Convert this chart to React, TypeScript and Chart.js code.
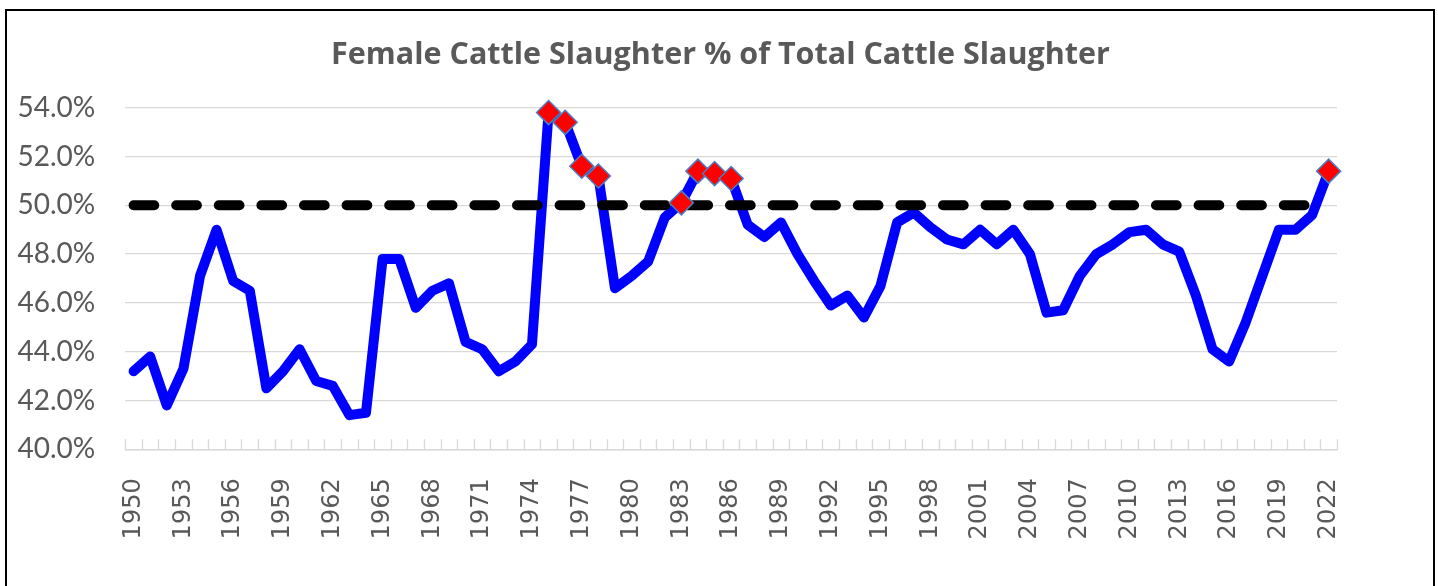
import React, { useEffect, useRef } from "react";
import { Chart, registerables } from "chart.js";

Chart.register(...registerables);

const TITLE = "Female Cattle Slaughter % of Total Cattle Slaughter";

const years: string[] = [
  "1950", "1951", "1952", "1953", "1954", "1955", "1956", "1957", "1958", "1959",
  "1960", "1961", "1962", "1963", "1964", "1965", "1966", "1967", "1968", "1969",
  "1970", "1971", "1972", "1973", "1974", "1975", "1976", "1977", "1978", "1979",
  "1980", "1981", "1982", "1983", "1984", "1985", "1986", "1987", "1988", "1989",
  "1990", "1991", "1992", "1993", "1994", "1995", "1996", "1997", "1998", "1999",
  "2000", "2001", "2002", "2003", "2004", "2005", "2006", "2007", "2008", "2009",
  "2010", "2011", "2012", "2013", "2014", "2015", "2016", "2017", "2018", "2019",
  "2020", "2021", "2022",
];

const femaleShare: number[] = [
  43.2, 43.8, 41.8, 43.3, 47.1, 49.0, 46.9, 46.5, 42.5, 43.2,
  44.1, 42.8, 42.6, 41.4, 41.5, 47.8, 47.8, 45.8, 46.5, 46.8,
  44.4, 44.1, 43.2, 43.6, 44.3, 53.8, 53.4, 51.6, 51.2, 46.6,
  47.1, 47.7, 49.5, 50.1, 51.4, 51.3, 51.1, 49.2, 48.7, 49.3,
  48.0, 46.9, 45.9, 46.3, 45.4, 46.7, 49.3, 49.7, 49.1, 48.6,
  48.4, 49.0, 48.4, 49.0, 48.0, 45.6, 45.7, 47.1, 48.0, 48.4,
  48.9, 49.0, 48.4, 48.1, 46.3, 44.1, 43.6, 45.2, 47.1, 49.0,
  49.0, 49.6, 51.4,
];

const parityLine: (number | null)[] = [
  50, 50, 50, 50, 50, 50, 50, 50, 50, 50,
  50, 50, 50, 50, 50, 50, 50, 50, 50, 50,
  50, 50, 50, 50, 50, 50, 50, 50, 50, 50,
  50, 50, 50, 50, 50, 50, 50, 50, 50, 50,
  50, 50, 50, 50, 50, 50, 50, 50, 50, 50,
  50, 50, 50, 50, 50, 50, 50, 50, 50, 50,
  50, 50, 50, 50, 50, 50, 50, 50, 50, 50,
  50, 50, null,
];

const highlightYears: string[] = [
  "1975", "1976", "1977", "1978", "1983", "1984", "1985", "1986", "2022",
];

const yTicks: number[] = [40, 42, 44, 46, 48, 50, 52, 54];

const GREY_TEXT = "#595959";
const GRID = "#D9D9D9";

const innerTicks = {
  id: "innerTicks",
  beforeDatasetsDraw(chart: any) {
    const x = chart.scales.x;
    const { ctx } = chart;
    const n = chart.data.labels.length;
    const step = (x.right - x.left) / n;
    ctx.save();
    ctx.strokeStyle = GRID;
    ctx.lineWidth = 1.3;
    ctx.beginPath();
    for (let i = 0; i <= n; i++) {
      const px = Math.round(x.left + i * step) + 0.5;
      ctx.moveTo(px, x.top - 10);
      ctx.lineTo(px, x.top);
    }
    ctx.stroke();
    ctx.restore();
  },
};

const pageTitle = {
  id: "pageTitle",
  afterDraw(chart: any) {
    const { ctx, width } = chart;
    ctx.save();
    ctx.font = "bold 30.5px 'Open Sans'";
    ctx.fillStyle = GREY_TEXT;
    ctx.textAlign = "center";
    ctx.textBaseline = "middle";
    ctx.fillText(TITLE, width / 2 + 1.5, 55);
    ctx.restore();
  },
};

export default function App() {
  const canvasRef = useRef<HTMLCanvasElement | null>(null);

  useEffect(() => {
    const canvas = canvasRef.current;
    if (!canvas) return;
    const markerData = years.map((y, i) =>
      highlightYears.includes(y) ? femaleShare[i] : null
    );
    const chart = new Chart(canvas, {
      type: "line",
      data: {
        labels: years,
        datasets: [
          {
            label: "Above 50%",
            data: markerData,
            showLine: false,
            pointStyle: "rectRot",
            pointRadius: 12,
            pointBackgroundColor: "#FF0000",
            pointBorderColor: "#4A7EC0",
            pointBorderWidth: 1.5,
            clip: false,
          } as any,
          {
            label: "50%",
            data: parityLine,
            borderColor: "#000000",
            borderWidth: 10,
            borderDash: [20.7, 21.9],
            borderCapStyle: "round",
            pointRadius: 0,
            spanGaps: false,
            clip: false,
          } as any,
          {
            label: "Female share",
            data: femaleShare,
            borderColor: "#0000FF",
            borderWidth: 10,
            borderJoinStyle: "round",
            borderCapStyle: "round",
            pointRadius: 0,
            tension: 0,
            clip: false,
          } as any,
        ],
      },
      options: {
        responsive: false,
        animation: false,
        events: [],
        layout: { padding: { left: 0, right: 101, top: 107.7, bottom: 0 } },
        plugins: {
          legend: { display: false },
          tooltip: { enabled: false },
          title: { display: false },
        },
        scales: {
          x: {
            type: "category",
            offset: true,
            grid: { display: false, drawTicks: false, drawOnChartArea: false },
            border: { display: true, color: GRID, width: 1.5 },
            ticks: {
              autoSkip: false,
              minRotation: 90,
              maxRotation: 90,
              padding: 29,
              color: GREY_TEXT,
              font: { family: "DejaVu Sans", size: 24 },
              callback: (_v: any, i: number) => (i % 3 === 0 ? years[i] : null),
            },
            afterFit: (s: any) => {
              s.height = 136.7;
            },
          },
          y: {
            min: yTicks[0],
            max: yTicks[yTicks.length - 1],
            afterBuildTicks: (s: any) => {
              s.ticks = yTicks.map((v) => ({ value: v }));
            },
            grid: { color: GRID, lineWidth: 1.3, drawTicks: false },
            border: { display: false },
            ticks: {
              padding: 30,
              color: GREY_TEXT,
              font: { family: "Lato", size: 28 },
              callback: (v: any) => Number(v).toFixed(1) + "%",
            },
            afterFit: (s: any) => {
              s.width = 125.3;
            },
          },
        },
      },
      plugins: [innerTicks, pageTitle],
    });
    return () => chart.destroy();
  }, []);

  return (
    <div
      style={{
        position: "fixed",
        left: 0,
        top: 0,
        width: 1438,
        height: 586,
        background: "#FFFFFF",
        overflow: "hidden",
      }}
    >
      <div
        style={{
          position: "absolute",
          left: 5,
          top: 9,
          width: 1426,
          height: 620,
          border: "2px solid #000000",
          boxSizing: "content-box",
        }}
      />
      <canvas
        ref={canvasRef}
        width={1438}
        height={586}
        style={{ position: "absolute", left: 0, top: 0 }}
      />
    </div>
  );
}
